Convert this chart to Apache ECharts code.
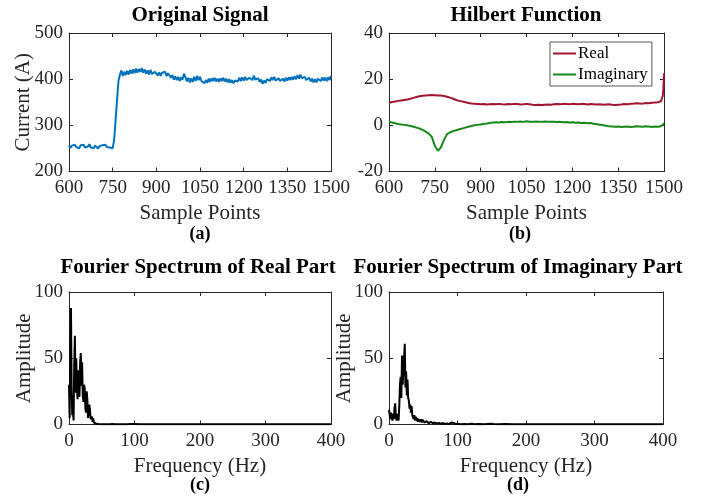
<!DOCTYPE html>
<html>
<head>
<meta charset="utf-8">
<script src="https://cdn.jsdelivr.net/npm/echarts@6/dist/echarts.min.js"></script>
<style>
  html, body { margin: 0; padding: 0; background: #fff; }
  #chart { width: 703px; height: 497px; }
</style>
</head>
<body>
<div id="chart"></div>
<script>
// ---- (a) measured current, one value every 5 samples from 600 to 1500 ----
const sampleStart = 600;
const signalStep = 5;
const currentA = [
  257, 251, 256, 252, 258, 253, 255, 250, 257, 253,
  258, 252, 256, 254, 259, 252, 255, 251, 256, 253,
  250, 255, 252, 257, 254, 258, 253, 257, 252, 254,
  250, 268, 310, 355, 396, 410, 419, 407, 416, 409,
  418, 410, 420, 412, 421, 413, 423, 414, 422, 416,
  424, 414, 421, 412, 419, 410, 420, 411, 408, 416,
  413, 408, 415, 407, 414, 410, 416, 407, 413, 409,
  403, 409, 399, 406, 398, 405, 396, 404, 399, 412,
  404, 395, 403, 393, 402, 394, 405, 396, 407, 398,
  405, 396, 399, 391, 398, 392, 401, 394, 402, 396,
  403, 395, 401, 394, 402, 396, 403, 395, 401, 393,
  400, 392, 398, 391, 397, 400, 395, 403, 396, 404,
  397, 405, 398, 395, 403, 406, 398, 408, 399, 396,
  402, 394, 399, 390, 397, 392, 400, 403, 396, 404,
  398, 405, 397, 395, 402, 396, 394, 401, 395, 403,
  397, 404, 398, 405, 399, 406, 400, 409, 401, 410,
  402, 399, 405, 398, 396, 403, 395, 401, 393, 400,
  393, 401, 403, 396, 404, 397, 403, 396, 404, 398,
  407
];

// ---- (b) Hilbert transform, every 10 samples from 600 to 1490, plus the end ----
const hilbertStep = 10;
const hilbertReal = [
  9.8, 10.1, 10.3, 10.6, 10.8, 11.0, 11.2, 11.5, 11.9, 12.3,
  12.6, 12.8, 12.9, 13.0, 13.1, 13.0, 12.9, 12.9, 12.7, 12.4,
  12.0, 11.5, 11.0, 10.6, 10.3, 10.0, 9.7, 9.5, 9.3, 9.2,
  9.1, 9.2, 9.0, 9.1, 9.2, 9.1, 9.3, 9.1, 9.0, 9.2,
  9.1, 9.3, 9.2, 9.0, 9.1, 9.3, 9.1, 8.9, 8.8, 8.9,
  8.8, 8.9, 9.0, 8.9, 9.1, 9.2, 9.1, 9.3, 9.2, 9.1,
  9.3, 9.2, 9.1, 9.3, 9.2, 9.0, 9.2, 9.1, 9.0, 9.1,
  8.9, 9.0, 9.1, 8.9, 8.8, 8.9, 9.0, 9.2, 9.1, 9.3,
  9.4, 9.6, 9.5, 9.4, 9.7, 9.6, 9.8, 9.9, 10.0, 10.4
];
const hilbertImag = [
  1.6, 1.2, 0.9, 0.6, 0.4, 0.2, 0.0, -0.3, -0.6, -1.0,
  -1.4, -2.0, -2.7, -3.6, -5.0, -8.8, -11.0, -9.6, -6.3, -3.8,
  -3.0, -2.5, -2.1, -1.7, -1.4, -1.0, -0.6, -0.3, 0.0, 0.2,
  0.4, 0.7, 0.8, 1.0, 1.2, 1.3, 1.2, 1.4, 1.3, 1.5,
  1.4, 1.6, 1.5, 1.7, 1.5, 1.8, 1.6, 1.5, 1.7, 1.6,
  1.5, 1.7, 1.6, 1.5, 1.6, 1.4, 1.5, 1.3, 1.4, 1.2,
  1.3, 1.1, 1.2, 1.0, 1.1, 0.9, 1.0, 0.7, 0.5, 0.3,
  0.1, -0.2, -0.4, -0.5, -0.6, -0.5, -0.7, -0.6, -0.5, -0.7,
  -0.6, -0.4, -0.5, -0.6, -0.4, -0.5, -0.7, -0.5, -0.6, -0.4
];
const hilbertTailX = [1494, 1496, 1498, 1500];
const hilbertTailReal = [11.2, 12.8, 15.6, 22.5];
const hilbertTailImag = [-0.3, -0.1, 0.4, 1.0];

// ---- (c)/(d) amplitude spectra: 1 Hz bins from 0 to 100 Hz, then sparse points ----
const spectrumStep = 1;
const spectrumReal = [
  30, 5, 62, 88, 28, 7, 10, 3, 46, 67,
  24, 50, 30, 19, 41, 33, 21, 47, 54, 29,
  47, 22, 17, 30, 27, 12, 9, 25, 19, 5,
  9, 15, 11, 4, 3, 6, 2, 4.5, 1.5, 3,
  0.8, 1.8, 0.5, 1.2, 0.3, 0.8, 0.2, 0.5, 0.3, 0.9,
  0.2, 0.4, 0.2, 1.0, 0.2, 0.3, 0.2, 0.8, 0.1, 0.3,
  0.2, 0.9, 0.2, 0.1, 0.2, 0.1, 0.3, 0.1, 0.2, 0.1,
  0.2, 0.1, 0.2, 0.1, 0.1, 0.2, 0.1, 0.2, 0.1, 0.1,
  0.2, 0.1, 0.1, 0.2, 0.1, 0.1, 0.2, 0.1, 0.1, 0.2,
  0.1, 0.2, 0.1, 0.2, 0.3, 0.2, 0.9, 1.2, 0.3, 0.1,
  0.2
];
const spectrumRealTailHz = [110, 120, 130, 140, 143, 145, 150, 156, 158, 160, 170, 180, 190, 200, 202, 204, 220, 250, 280, 300, 330, 360, 400];
const spectrumRealTail = [0.1, 0.2, 0.1, 0.2, 1.0, 0.2, 0.1, 0.2, 1.1, 0.2, 0.1, 0.1, 0.1, 0.2, 0.9, 0.1, 0.1, 0.1, 0.1, 0.1, 0.1, 0.1, 0.1];

const spectrumImag = [
  11, 7, 4, 9, 5, 3, 8, 4, 12, 16,
  6, 3, 8, 5, 3, 14, 30, 36, 20, 52,
  30, 40, 50, 61, 28, 40, 22, 34, 20, 18,
  12, 15, 9, 14, 7, 8, 4, 7, 3, 6,
  3, 5, 2, 4, 2.5, 5, 2, 4, 1.5, 3.5,
  2, 3, 1.5, 3, 1.2, 2.5, 1, 2.5, 1, 2.2,
  1.2, 2, 0.8, 1.8, 0.9, 2, 0.7, 1.5, 0.8, 1.6,
  0.6, 1.4, 0.6, 1.2, 0.5, 1.3, 0.5, 1, 0.4, 1.1,
  0.5, 0.9, 0.4, 1, 0.3, 0.8, 0.4, 0.9, 0.3, 0.8,
  0.5, 1.5, 2.2, 0.6, 1.2, 0.3, 1.5, 0.4, 0.6, 0.3,
  0.5
];
const spectrumImagTailHz = [105, 110, 115, 120, 125, 130, 140, 148, 150, 152, 160, 170, 180, 190, 200, 202, 204, 220, 250, 300, 350, 400];
const spectrumImagTail = [0.2, 0.4, 0.2, 0.5, 0.2, 0.3, 0.2, 0.5, 0.9, 0.3, 0.2, 0.3, 0.1, 0.2, 0.2, 1.1, 0.2, 0.1, 0.1, 0.1, 0.1, 0.1];

// ---- axis ticks ----
const sampleTicks = { min: 600, max: 1500, interval: 150 };
const currentTicks = { min: 200, max: 500, interval: 100 };
const hilbertTicks = { min: -20, max: 40, interval: 20 };
const freqTicks = { min: 0, max: 400, interval: 100 };
const ampTicks = { min: 0, max: 100, interval: 50 };

// pair an evenly spaced index grid with its values
function onGrid(start, step, values) {
  return values.map((v, i) => [start + i * step, v]);
}
function pairs(xs, ys) {
  return xs.map((x, i) => [x, ys[i]]);
}

const FONT = '"Liberation Serif", "Times New Roman", serif';
const INK = '#262626';

const grids = [
  { left: 69, top: 33, width: 262, height: 138.5 },
  { left: 389, top: 33, width: 275, height: 138.5 },
  { left: 69, top: 292, width: 262, height: 132.5 },
  { left: 389, top: 292, width: 274, height: 132.5 }
];

const xAxes = [];
const yAxes = [];
// every panel gets a closed box: labelled bottom/left axes plus bare top/right axes, ticks pointing inward
function boxAxes(g, xt, yt, xName, yName, yGap) {
  const line = { show: true, onZero: false, lineStyle: { color: INK, width: 1 } };
  const tick = { show: true, inside: true, length: 4, lineStyle: { color: INK, width: 1 } };
  const label = { show: true, color: INK, fontFamily: FONT, fontSize: 19, formatter: v => String(v) };
  xAxes.push({
    type: 'value', gridIndex: g, position: 'bottom', min: xt.min, max: xt.max, interval: xt.interval,
    axisLine: line, axisTick: tick, splitLine: { show: false },
    axisLabel: Object.assign({ margin: 7 }, label),
    name: xName, nameLocation: 'middle', nameGap: 31,
    nameTextStyle: { color: INK, fontFamily: FONT, fontSize: 21 }
  });
  xAxes.push({
    type: 'value', gridIndex: g, position: 'top', min: xt.min, max: xt.max, interval: xt.interval,
    axisLine: line, axisTick: tick, splitLine: { show: false }, axisLabel: { show: false }
  });
  yAxes.push({
    type: 'value', gridIndex: g, position: 'left', min: yt.min, max: yt.max, interval: yt.interval,
    axisLine: line, axisTick: tick, splitLine: { show: false },
    axisLabel: Object.assign({ margin: 6 }, label),
    name: yName, nameLocation: 'middle', nameGap: yGap, nameRotate: 90, nameMoveOverlap: false,
    nameTextStyle: { color: INK, fontFamily: FONT, fontSize: 21 }
  });
  yAxes.push({
    type: 'value', gridIndex: g, position: 'right', min: yt.min, max: yt.max, interval: yt.interval,
    axisLine: line, axisTick: tick, splitLine: { show: false }, axisLabel: { show: false }
  });
}
boxAxes(0, sampleTicks, currentTicks, 'Sample Points', 'Current (A)', 35);
boxAxes(1, sampleTicks, hilbertTicks, 'Sample Points', '', 35);
boxAxes(2, freqTicks, ampTicks, 'Frequency (Hz)', 'Amplitude', 34);
boxAxes(3, freqTicks, ampTicks, 'Frequency (Hz)', 'Amplitude', 34);

function lineSeries(name, panel, data, color, width) {
  return {
    name: name, type: 'line', xAxisIndex: panel * 2, yAxisIndex: panel * 2,
    data: data, showSymbol: false, symbol: 'none', smooth: false,
    lineStyle: { color: color, width: width }, itemStyle: { color: color },
    clip: true
  };
}

const series = [
  lineSeries('Current', 0, onGrid(sampleStart, signalStep, currentA), '#0072BD', 2),
  lineSeries('Real', 1, onGrid(sampleStart, hilbertStep, hilbertReal).concat(pairs(hilbertTailX, hilbertTailReal)), '#A2142F', 2),
  lineSeries('Imaginary', 1, onGrid(sampleStart, hilbertStep, hilbertImag).concat(pairs(hilbertTailX, hilbertTailImag)), '#16891A', 2),
  lineSeries('Spectrum Real', 2, onGrid(0, spectrumStep, spectrumReal).concat(pairs(spectrumRealTailHz, spectrumRealTail)), '#000000', 2),
  lineSeries('Spectrum Imaginary', 3, onGrid(0, spectrumStep, spectrumImag).concat(pairs(spectrumImagTailHz, spectrumImagTail)), '#000000', 2)
];

function caption(text, x, y, size, bold) {
  return {
    type: 'text', x: x, y: y, silent: true,
    style: {
      text: text, fill: '#000',
      font: (bold ? 'bold ' : '') + size + 'px ' + FONT,
      align: 'center', verticalAlign: 'middle'
    }
  };
}

const option = {
  animation: false,
  backgroundColor: '#ffffff',
  grid: grids,
  xAxis: xAxes,
  yAxis: yAxes,
  legend: {
    data: ['Real', 'Imaginary'],
    orient: 'vertical',
    left: 550, top: 42,
    padding: [1, 4, 1, 3],
    itemGap: 0,
    itemWidth: 23, itemHeight: 2,
    icon: 'rect',
    backgroundColor: '#fff',
    borderColor: '#555', borderWidth: 1,
    textStyle: { color: '#000', fontFamily: FONT, fontSize: 17, lineHeight: 21, padding: [0, 0, 0, -3] }
  },
  graphic: [
    caption('Original Signal', 200, 16, 21, true),
    caption('Hilbert Function', 526, 16, 21, true),
    caption('Fourier Spectrum of Real Part', 198, 268, 21, true),
    caption('Fourier Spectrum of Imaginary Part', 518, 268, 21, true),
    caption('(a)', 200, 234, 18, true),
    caption('(b)', 520, 234, 18, true),
    caption('(c)', 200, 485, 18, true),
    caption('(d)', 518, 485, 18, true)
  ],
  series: series
};

const chart = echarts.init(document.getElementById('chart'), null, { renderer: 'canvas' });
chart.setOption(option);
</script>
</body>
</html>
